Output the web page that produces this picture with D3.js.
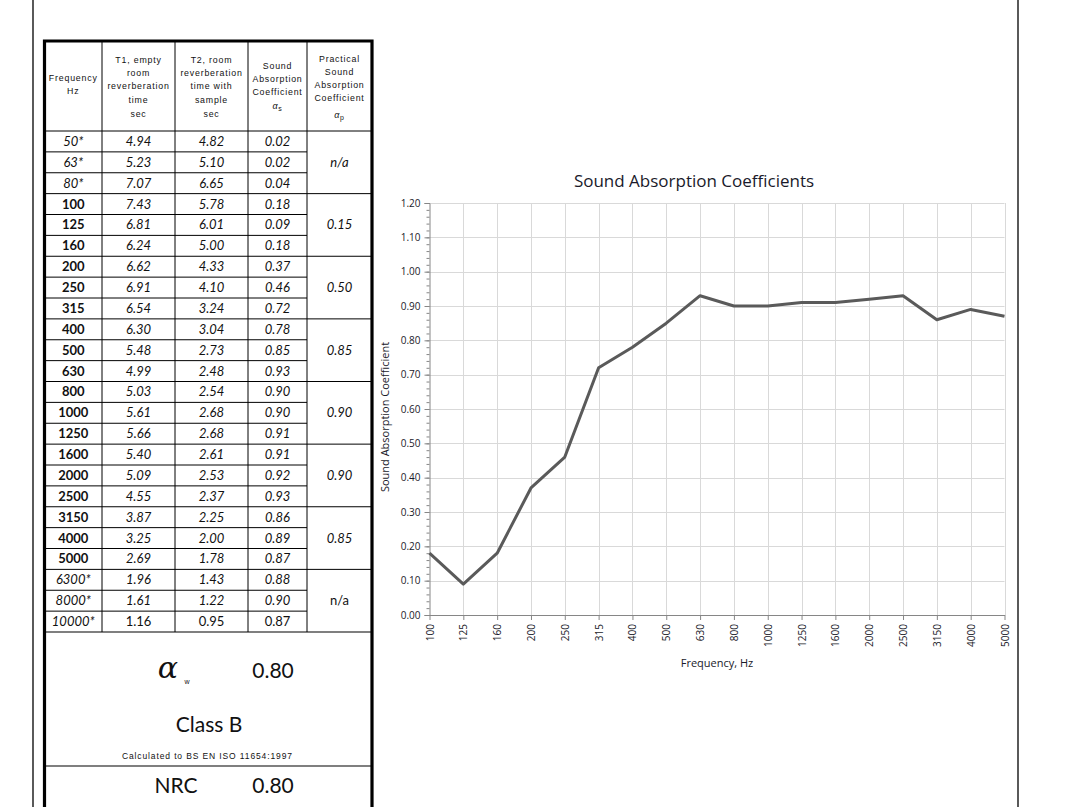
<!DOCTYPE html>
<html>
<head>
<meta charset="utf-8">
<script src="https://cdn.jsdelivr.net/npm/d3@7"></script>
<style>
  body { margin: 0; background: #fff; }
  svg { display: block; }
  .hdr { font-family: "Liberation Sans", Arial, sans-serif; font-size: 8.8px; letter-spacing: 0.8px; fill: #111; }
  .cell { font-family: Lato, "Noto Sans", sans-serif; font-size: 13px; fill: #111; }
  .chart text { font-family: "Open Sans", "Noto Sans", sans-serif; fill: #1a1a2a; }
</style>
</head>
<body>
<div id="page"></div>
<script>
// table data
var frequencies = ["50*","63*","80*","100","125","160","200","250","315","400","500","630",
  "800","1000","1250","1600","2000","2500","3150","4000","5000","6300*","8000*","10000*"];
var t1Values = [4.94,5.23,7.07,7.43,6.81,6.24,6.62,6.91,6.54,6.30,5.48,4.99,
  5.03,5.61,5.66,5.40,5.09,4.55,3.87,3.25,2.69,1.96,1.61,1.16];
var t2Values = [4.82,5.10,6.65,5.78,6.01,5.00,4.33,4.10,3.24,3.04,2.73,2.48,
  2.54,2.68,2.68,2.61,2.53,2.37,2.25,2.00,1.78,1.43,1.22,0.95];
var alphaS = [0.02,0.02,0.04,0.18,0.09,0.18,0.37,0.46,0.72,0.78,0.85,0.93,
  0.90,0.90,0.91,0.91,0.92,0.93,0.86,0.89,0.87,0.88,0.90,0.87];
var alphaP = ["n/a","0.15","0.50","0.85","0.90","0.90","0.85","n/a"];
var alphaW = "0.80";
var soundClass = "Class B";
var nrc = "0.80";

// chart data (100 Hz .. 5000 Hz)
var chartFreqs = frequencies.slice(3, 21);
var chartValues = alphaS.slice(3, 21);
var yTicks = [0,0.1,0.2,0.3,0.4,0.5,0.6,0.7,0.8,0.9,1.0,1.1,1.2];

var width = 1076, height = 807;
var svg = d3.select("#page").append("svg")
  .attr("width", width).attr("height", height);

// page frame
svg.append("line").attr("x1", 33).attr("x2", 33).attr("y1", 0).attr("y2", height)
  .attr("stroke", "#000").attr("stroke-width", 1.3);
svg.append("line").attr("x1", 1018).attr("x2", 1018).attr("y1", 0).attr("y2", height)
  .attr("stroke", "#000").attr("stroke-width", 1.3);

// ---------- table ----------
var colX = [44.5, 102, 175, 248, 307, 372];
var colMid = colX.slice(0, 5).map((d, i) => (d + colX[i + 1]) / 2);
var tableTop = 41, headBottom = 131, rowH = 20.875;
var rowsBottom = headBottom + rowH * frequencies.length;

var tbl = svg.append("g");

// header text
var headers = [
  { lines: ["Frequency", "Hz"], ys: [78, 91] },
  { lines: ["T1, empty", "room", "reverberation", "time", "sec"], ys: [60, 73, 86, 100, 114] },
  { lines: ["T2, room", "reverberation", "time with", "sample", "sec"], ys: [60, 73, 86, 100, 114] },
  { lines: ["Sound", "Absorption", "Coefficient", "αs"], ys: [66, 79, 92, 106] },
  { lines: ["Practical", "Sound", "Absorption", "Coefficient", "αp"], ys: [59, 72, 85, 98, 115] }
];
headers.forEach(function (h, c) {
  h.lines.forEach(function (txt, k) {
    var t = tbl.append("text").attr("class", "hdr")
      .attr("x", colMid[c]).attr("y", h.ys[k] + 3).attr("text-anchor", "middle");
    if (txt[0] === "α") {
      t.append("tspan").text("α").style("font-style", "italic").style("font-size", "9px");
      t.append("tspan").text(txt[1]).attr("dy", 2).style("font-size", "7px");
    } else {
      t.text(txt);
    }
  });
});

// body rows
frequencies.forEach(function (f, i) {
  var y = headBottom + rowH * i + rowH / 2 + 4.5;
  var starred = f.indexOf("*") >= 0;
  var lastRow = i === frequencies.length - 1;
  tbl.append("text").attr("class", "cell").attr("x", colMid[0]).attr("y", y)
    .attr("text-anchor", "middle")
    .style("font-style", starred ? "italic" : "normal")
    .style("font-weight", starred ? "normal" : "bold")
    .text(f);
  [t1Values[i], t2Values[i], alphaS[i]].forEach(function (v, c) {
    tbl.append("text").attr("class", "cell").attr("x", colMid[c + 1]).attr("y", y)
      .attr("text-anchor", "middle")
      .style("font-style", lastRow ? "normal" : "italic")
      .text(v.toFixed(2));
  });
  if (i > 0) {
    var full = i % 3 === 0;
    tbl.append("line").attr("x1", colX[0]).attr("x2", full ? colX[5] : colX[4])
      .attr("y1", headBottom + rowH * i).attr("y2", headBottom + rowH * i)
      .attr("stroke", "#000").attr("stroke-width", 1);
  }
});
alphaP.forEach(function (v, g) {
  var y = headBottom + rowH * (g * 3 + 1.5) + 4.5;
  tbl.append("text").attr("class", "cell").attr("x", colMid[4]).attr("y", y)
    .attr("text-anchor", "middle")
    .style("font-style", g === alphaP.length - 1 ? "normal" : "italic")
    .text(v);
});

// grid lines of table
tbl.append("line").attr("x1", colX[0]).attr("x2", colX[5]).attr("y1", headBottom).attr("y2", headBottom)
  .attr("stroke", "#000").attr("stroke-width", 1);
tbl.append("line").attr("x1", colX[0]).attr("x2", colX[5]).attr("y1", rowsBottom).attr("y2", rowsBottom)
  .attr("stroke", "#000").attr("stroke-width", 1.2);
colX.slice(1, 5).forEach(function (x) {
  tbl.append("line").attr("x1", x).attr("x2", x).attr("y1", tableTop).attr("y2", rowsBottom)
    .attr("stroke", "#000").attr("stroke-width", 1);
});
tbl.append("line").attr("x1", colX[0]).attr("x2", colX[5]).attr("y1", 766).attr("y2", 766)
  .attr("stroke", "#000").attr("stroke-width", 1.2);
// thick outer border
tbl.append("path")
  .attr("d", "M" + colX[0] + "," + (height + 5) + "V" + tableTop + "H" + colX[5] + "V" + (height + 5))
  .attr("fill", "none").attr("stroke", "#000").attr("stroke-width", 3.2);

// summary block
var gill = "Lato, 'Noto Sans', sans-serif";
tbl.append("text").attr("x", 168).attr("y", 678).attr("text-anchor", "middle")
  .style("font-family", "'DejaVu Serif', serif").style("font-style", "italic")
  .style("font-size", "30px").style("fill", "#111").text("α");
tbl.append("text").attr("x", 187).attr("y", 684).attr("text-anchor", "middle")
  .style("font-family", "'Liberation Sans', sans-serif").style("font-size", "7px").style("fill", "#111").text("w");
tbl.append("text").attr("x", 273).attr("y", 678).attr("text-anchor", "middle")
  .style("font-family", gill).style("font-size", "21px").style("fill", "#111").text(alphaW);
tbl.append("text").attr("x", 209).attr("y", 732).attr("text-anchor", "middle")
  .style("font-family", gill).style("font-size", "21px").style("fill", "#111").text(soundClass);
tbl.append("text").attr("x", 122).attr("y", 759)
  .attr("textLength", 170).attr("lengthAdjust", "spacing")
  .style("font-family", "'Liberation Sans', sans-serif").style("font-size", "8.5px").style("fill", "#111")
  .text("Calculated to BS EN ISO 11654:1997");
tbl.append("text").attr("x", 176).attr("y", 793).attr("text-anchor", "middle")
  .style("font-family", gill).style("font-size", "21px").style("fill", "#111").text("NRC");
tbl.append("text").attr("x", 273).attr("y", 793).attr("text-anchor", "middle")
  .style("font-family", gill).style("font-size", "21px").style("fill", "#111").text(nrc);

// ---------- chart ----------
var plot = { left: 429.5, right: 1004.5, top: 203, bottom: 615 };
var x = d3.scalePoint().domain(chartFreqs).range([plot.left, plot.right]);
var y = d3.scaleLinear().domain([0, 1.2]).range([plot.bottom, plot.top]);

var chart = svg.append("g").attr("class", "chart");

// gridlines
chart.append("g").selectAll("line").data(yTicks.slice(1)).join("line")
  .attr("x1", plot.left).attr("x2", plot.right)
  .attr("y1", d => Math.round(y(d)) + 0.5).attr("y2", d => Math.round(y(d)) + 0.5)
  .attr("stroke", "#d9d9d9").attr("stroke-width", 1);
chart.append("g").selectAll("line").data(chartFreqs.slice(1)).join("line")
  .attr("x1", d => Math.round(x(d)) + 0.5).attr("x2", d => Math.round(x(d)) + 0.5)
  .attr("y1", plot.top).attr("y2", plot.bottom)
  .attr("stroke", "#d9d9d9").attr("stroke-width", 1);

// y axis
var yAxis = chart.append("g").attr("transform", "translate(" + plot.left + ",0)")
  .call(d3.axisLeft(y).tickValues(yTicks).tickFormat(d3.format(".2f")).tickSize(5).tickPadding(4));
chart.append("g").attr("transform", "translate(" + plot.left + ",0)")
  .call(d3.axisLeft(y).tickValues(d3.range(0, 61).map(k => k / 50)).tickFormat("").tickSize(3))
  .select(".domain").remove();

// x axis
var xAxis = chart.append("g").attr("transform", "translate(0," + plot.bottom + ")")
  .call(d3.axisBottom(x).tickSize(5).tickSizeOuter(0));
xAxis.selectAll(".tick text")
  .attr("transform", "rotate(-90)")
  .attr("text-anchor", "end")
  .attr("x", -9).attr("y", 0).attr("dy", "0.35em");

chart.selectAll(".domain, .tick line").attr("stroke", "#868686");
chart.selectAll(".tick text").style("font-size", "10px").attr("fill", "#1a1a2a");

// series line
chart.append("path").datum(chartValues.map((v, i) => [chartFreqs[i], v]))
  .attr("fill", "none").attr("stroke", "#5a5a5a").attr("stroke-width", 3)
  .attr("stroke-linejoin", "round")
  .attr("d", d3.line().x(d => x(d[0])).y(d => y(d[1])));

// titles
chart.append("text").attr("x", 694).attr("y", 187).attr("text-anchor", "middle")
  .style("font-size", "17px").text("Sound Absorption Coefficients");
chart.append("text").attr("transform", "translate(389,417) rotate(-90)").attr("text-anchor", "middle")
  .style("font-size", "11px").text("Sound Absorption Coefficient");
chart.append("text").attr("x", (plot.left + plot.right) / 2).attr("y", 667).attr("text-anchor", "middle")
  .style("font-size", "11px").text("Frequency, Hz");
</script>
</body>
</html>
